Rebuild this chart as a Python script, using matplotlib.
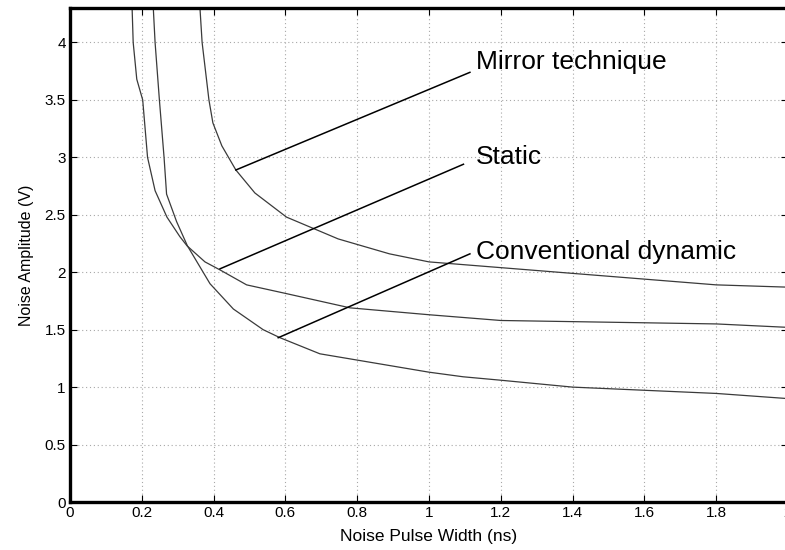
import numpy as np
import matplotlib.pyplot as plt

plt.rcParams['font.family'] = ['Liberation Sans', 'DejaVu Sans']

# # **data**

mirror_x = [0.362, 0.368, 0.387, 0.398, 0.423, 0.462, 0.515, 0.603, 0.747, 0.89, 1.0, 1.2, 1.4, 1.8, 2.0]
mirror_y = [4.3, 4.0, 3.5, 3.3, 3.1, 2.89, 2.69, 2.48, 2.29, 2.16, 2.09, 2.04, 1.99, 1.89, 1.87]

static_x = [0.173, 0.176, 0.186, 0.2025, 0.216, 0.237, 0.27, 0.306, 0.326, 0.376, 0.418, 0.492, 0.594, 0.78, 1.0, 1.2, 1.4, 1.8, 2.0]
static_y = [4.3, 4.0, 3.68, 3.5, 3.0, 2.71, 2.48, 2.31, 2.23, 2.09, 2.02, 1.89, 1.82, 1.69, 1.63, 1.58, 1.57, 1.55, 1.52]

conv_x = [0.232, 0.237, 0.249, 0.262, 0.269, 0.297, 0.327, 0.39, 0.455, 0.538, 0.585, 0.696, 1.0, 1.095, 1.2, 1.4, 1.8, 2.0]
conv_y = [4.3, 4.0, 3.5, 3.0, 2.68, 2.44, 2.23, 1.90, 1.68, 1.50, 1.43, 1.29, 1.13, 1.09, 1.06, 1.0, 0.945, 0.90]

labels = ['Mirror technique', 'Static', 'Conventional dynamic']
# pointer line: start on curve -> end near label
ptr_x0 = [0.462, 0.418, 0.58]
ptr_y0 = [2.89, 2.03, 1.43]
ptr_x1 = [1.114, 1.096, 1.114]
ptr_y1 = [3.74, 2.94, 2.16]
lbl_x = [1.13, 1.13, 1.13]
lbl_y = [3.83, 3.0, 2.18]

xticks = np.arange(0, 2.01, 0.2)
yticks = np.arange(0, 4.01, 0.5)
xtick_labels = ['0', '0.2', '0.4', '0.6', '0.8', '1', '1.2', '1.4', '1.6', '1.8', '2']
ytick_labels = ['0', '0.5', '1', '1.5', '2', '2.5', '3', '3.5', '4']

# # **plot**

fig = plt.figure(figsize=(7.85, 5.5), dpi=100)
ax = fig.add_axes([70 / 785, 48 / 550, 718 / 785, 494 / 550])

line_col = '#3a3a3a'
ax.plot(mirror_x, mirror_y, color=line_col, lw=0.9)
ax.plot(static_x, static_y, color=line_col, lw=0.9)
ax.plot(conv_x, conv_y, color=line_col, lw=0.9)

for i in range(len(labels)):
    ax.plot([ptr_x0[i], ptr_x1[i]], [ptr_y0[i], ptr_y1[i]], color='black', lw=1.1)
    ax.text(lbl_x[i], lbl_y[i], labels[i], fontsize=19, va='center', ha='left')

ax.set_xlim(0, 2)
ax.set_ylim(0, 4.3)
ax.set_xticks(xticks)
ax.set_xticklabels(xtick_labels)
ax.set_yticks(yticks)
ax.set_yticklabels(ytick_labels)
ax.tick_params(direction='in', length=5, width=0.8, labelsize=11,
               top=True, right=True, pad=3)
ax.grid(True, color='#a8a8a8', linestyle=(0, (1, 2.5)), linewidth=0.8)

for s in ax.spines.values():
    s.set_linewidth(2.4)

ax.set_xlabel('Noise Pulse Width (ns)', fontsize=12.5, labelpad=6)
ax.set_ylabel('Noise Amplitude (V)', fontsize=11.5, labelpad=8)

fig.savefig('out.png', dpi=100)
